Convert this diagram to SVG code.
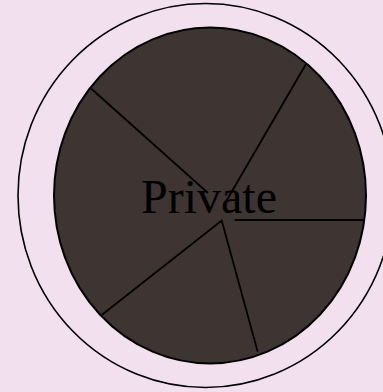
<svg xmlns="http://www.w3.org/2000/svg" width="383" height="392" viewBox="0 0 383 392">
<style>
.ln{stroke:#000;stroke-width:1.8;fill:none;stroke-linecap:butt}
.lbl{font-family:"Liberation Serif","Times New Roman",serif;font-size:48px;fill:#000;text-anchor:middle}
</style>
<rect width="383" height="392" fill="#f2e0ee"/>
<g id="outer">
<ellipse cx="205.5" cy="195.5" rx="187.5" ry="192" fill="#f2e0ee" stroke="#000" stroke-width="1.6"/>
</g>
<g id="pie">
<ellipse cx="210" cy="195.5" rx="156" ry="168" fill="#3e3533" stroke="#000" stroke-width="2"/>
</g>
<g id="connectors">
<line class="ln" x1="90.5" y1="88" x2="208" y2="193"/>
<line class="ln" x1="306" y1="64" x2="224" y2="205"/>
<line class="ln" x1="234.5" y1="220" x2="365" y2="220"/>
<polyline class="ln" points="101.7,315 221.7,220.5 257.7,351.7"/>
</g>
<g id="label">
<text class="lbl" x="209" y="213">Private</text>
</g>
</svg>
